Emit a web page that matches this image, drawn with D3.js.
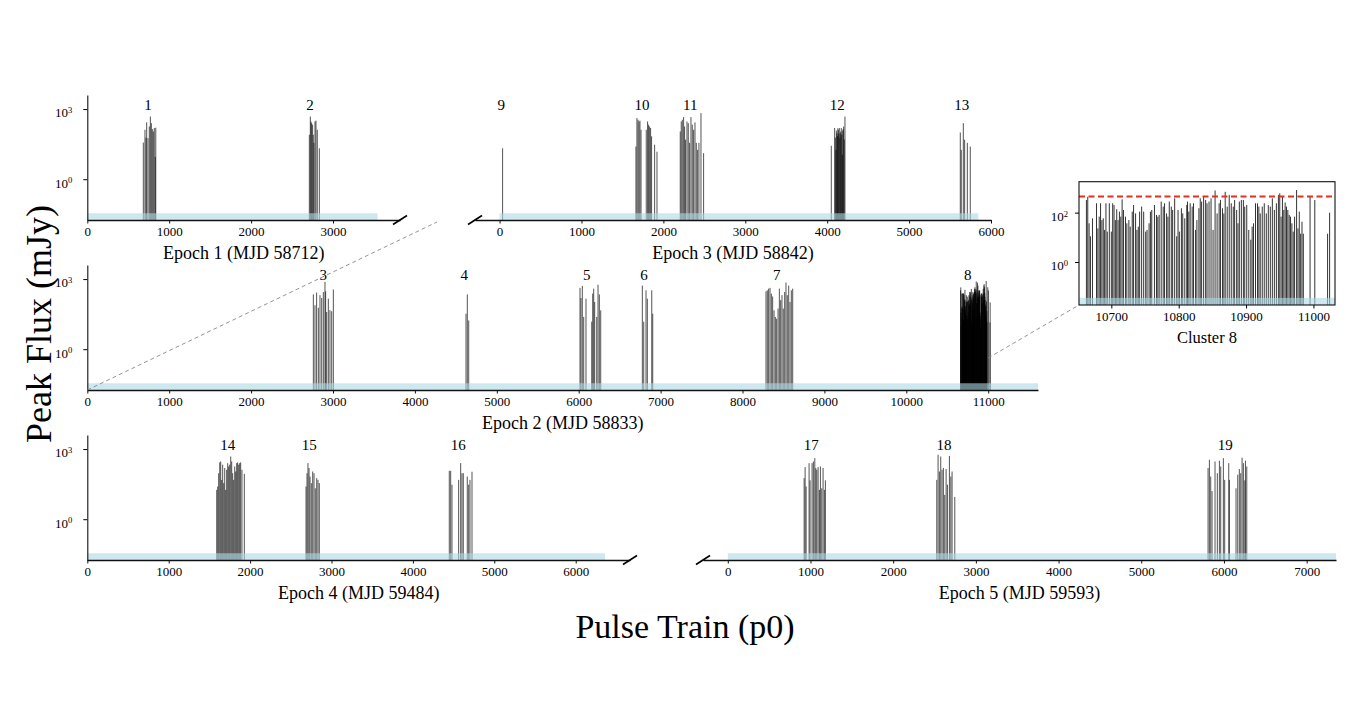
<!DOCTYPE html>
<html><head><meta charset="utf-8">
<script src="https://cdn.jsdelivr.net/npm/d3@7"></script>
<style>
body{margin:0;background:#fff}
text{font-family:"Liberation Serif","Times New Roman",serif;fill:#000}
</style>
</head><body>
<svg id="c" width="1356" height="714"></svg>
<script>
// ---------------- DATA ----------------
const epochTitles = ["Epoch 1 (MJD 58712)","Epoch 2 (MJD 58833)","Epoch 3 (MJD 58842)","Epoch 4 (MJD 59484)","Epoch 5 (MJD 59593)"];
const epochLength = [3545, 11650, 5845, 6360, 7400];   // observed span (p0) shaded band

const e1Pulse = [684,704,716,725,741,757,770,782,794,806,818,830,836, 2711,2723,2731,2739,2751,2759,2767,2780,2792,2808,2833];
const e1Flux  = [37,130,60,270,57,180,480,250,140,110,155,9,160, 80,480,295,250,215,80,36,295,320,130,21];
const e1ClusterId = [1,2];
const e1ClusterPos = [741,2718];

const e2Pulse = [2760,2780,2800,2821,2841,2862,2882,2902,2910,2923,2943,2963,2984,3004,
  4624,4640,4657,
  6016,6028,6044,6061,6089,6159,6171,6183,6195,6220,6236,6252,6269,
  6777,6794,6822,6838,6892,6904,
  8287,8303,8319,8336,8352,8368,8385,8401,8417,8434,8450,8466,8482,8498,8515,8531,8547,8564,8580,8596,8613];
const e2Flux = [220,76,265,59,205,155,280,760,300,39,145,47,42,360,
  33,220,17,
  420,155,510,24,145,15,240,390,105,24,580,220,46,
  525,15,330,145,330,33,
  300,330,390,420,240,180,46,24,20,55,390,125,205,55,280,710,205,525,105,330,390];
const c8Pulse = [10663,10665,10667,10669,10672,10678,10680,10682,10684,10686,10688,10690,10692,10694,10697,10700,10702,10704,10706,10708,
  10710,10712,10714,10716,10718,10721,10723,10726,10728,10731,10733,10736,10738,10740,10742,10745,10748,10751,10753,10756,
  10758,10760,10764,10767,10769,10771,10774,10777,10779,10782,10784,10786,10789,10791,10794,10797,10799,10801,10804,10806,
  10809,10812,10813,10815,10817,10820,10822,10825,10827,10830,10832,10834,10837,10840,10842,10845,10848,10851,10854,10857,
  10860,10862,10865,10867,10869,10872,10875,10878,10881,10883,10886,10888,10890,10893,10896,10898,10901,10904,10907,10909,
  10911,10914,10917,10919,10921,10924,10927,10930,10933,10936,10939,10942,10945,10948,10950,10952,10954,10956,10958,10960,
  10962,10964,10966,10968,10970,10972,10975,10977,10979,10981,10983,10985,10995,11002,11021,11024];
const c8Flux = [327,440,37,11,59,240,23,69,240,50,59,20,240,17,240,17,240,204,50,138,
  50,110,69,347,129,69,37,50,27,110,204,93,20,27,110,176,110,17,20,37,
  110,129,204,81,69,81,282,176,240,93,69,282,176,129,380,11,129,17,151,93,
  59,204,282,110,240,176,240,20,50,151,380,282,447,327,240,282,380,20,790,93,
  240,327,151,93,700,176,525,240,176,327,129,37,282,327,327,176,204,20,8,27,
  37,240,240,176,93,176,240,93,204,176,380,129,240,525,610,69,447,129,257,176,
  129,81,69,37,17,69,830,23,110,14,43,14,447,327,14,100];
const e2ClusterId = [3,4,5,6,7,8];
const e2ClusterPos = [2882,4603,6098,6797,8418,10750];

const e3Pulse = [37, 1665,1677,1690,1702,1714,1727,1791,1807,1819,1832,1844,1856,1893,1922,
  2206,2218,2231,2247,2259,2271,2288,2304,2320,2337,2353,2369,2386,2402,2418,2434,2459,2491,
  4050,4091,4100,4107,4112,4119,4125,4130,4136,4142,4148,4155,4160,4166,4172,4178,4185,4190,4195,4201,4208,4217,
  5625,5637,5662,5678,5711,5747];
const e3Flux = [21, 25,410,350,295,320,130,130,295,215,180,155,68,30,15,
  110,295,350,455,180,49,295,250,36,455,215,130,270,36,18,36,670,13,
  27,155,60,18,120,93,70,150,130,90,155,60,93,110,155,80,11,120,140,180,50,480,
  100,18,250,49,36,25];
const e3ClusterId = [9,10,11,12,13];
const e3ClusterPos = [20,1738,2329,4124,5643];

const e4Pulse = [1590,1602,1614,1627,1639,1651,1663,1676,1688,1700,1712,1725,1737,1749,1762,1774,1786,1798,1811,1823,1835,1847,1860,1872,1884,1900,1929,
  2687,2699,2711,2724,2736,2752,2769,2785,2801,2818,2834,2850,
  4447,4464,4480,4562,4587,4603,4619,4668,4685,4701,4726];
const e4Flux = [18,25,93,270,295,48,215,35,155,18,130,250,180,215,480,295,93,48,180,110,250,270,215,250,270,130,87,
  25,93,250,155,67,35,110,93,21,57,48,35,
  118,118,30,48,250,93,93,67,30,48,107];
const e4ClusterId = [14,15,16];
const e4ClusterPos = [1725,2727,4558];

const e5Pulse = [923,935,947,983,995,1019,1035,1052,1064,1076,1092,1108,1120,1136,1152,1168,1180,
  2527,2543,2559,2575,2591,2607,2623,2640,2656,2680,2697,2712,2745,
  5808,5824,5840,5856,5892,5920,5945,5961,5993,6009,6058,6066,6146,6167,6186,6203,6219,6235,6252,6260,6276];
const e5Flux = [57,170,25,250,46,250,295,410,155,130,170,18,180,21,155,18,46,
  48,570,110,480,130,155,11,140,30,510,67,110,9,
  155,350,67,16,295,93,320,180,410,48,250,48,21,80,140,93,430,250,46,320,180];
const e5ClusterId = [17,18,19];
const e5ClusterPos = [1008,2613,6017];

const e1Ticks = [0,1000,2000,3000];
const e2Ticks = [0,1000,2000,3000,4000,5000,6000,7000,8000,9000,10000,11000];
const e3Ticks = [0,1000,2000,3000,4000,5000,6000];
const e4Ticks = [0,1000,2000,3000,4000,5000,6000];
const e5Ticks = [0,1000,2000,3000,4000,5000,6000,7000];
const insetTicks = [10700,10800,10900,11000];
const yTicks = [1,1000];
const insetYTicks = [1,100];
const fluxFloor = 0.018, fluxCeil = 4000, insetCeil = 1800;
const bandTop = 0.035;
const threshold = 450;

// ---------------- DRAW ----------------
const svg = d3.select("#c");
const barColor = "#000";
const TICKFS = 13, YTICKFS = 13;

function supLabel(sel, fs){
  sel.each(function(d){
    const t = d3.select(this);
    t.text(null);
    t.append("tspan").text("10");
    t.append("tspan").attr("dy","-0.5em").attr("font-size",(fs*0.66)+"px").text(Math.round(Math.log10(d)));
  });
}

function styleTicks(sel, fs){
  sel.attr("font-size",null).attr("font-family",null);
  sel.selectAll(".tick text").style("font-size",fs+"px").style("font-family",'"Liberation Serif","Times New Roman",serif');
}

function panel(o){
  const x = d3.scaleLinear().domain(o.domain).range([o.px0,o.px1]);
  const y = d3.scaleLog().domain([fluxFloor,fluxCeil]).range([o.yb,o.yb-125]);
  const g = svg.append("g");
  // bars
  g.selectAll("line.bar").data(o.pulse.map((p,i)=>({p,f:o.flux[i]}))).join("line")
    .attr("x1",d=>x(d.p)).attr("x2",d=>x(d.p))
    .attr("y1",y(fluxFloor)).attr("y2",d=>y(d.f))
    .attr("stroke",barColor).attr("stroke-width",0.8).attr("stroke-opacity",0.85);
  // band
  const b0 = Math.max(0,o.domain[0]), b1 = Math.min(o.band,o.domain[1]);
  g.append("rect").attr("x",x(b0)).attr("width",x(b1)-x(b0))
    .attr("y",y(bandTop)).attr("height",y(fluxFloor)-y(bandTop))
    .attr("fill","#add8e6").attr("fill-opacity",0.6);
  // x axis
  const ax = g.append("g").attr("transform",`translate(0,${o.yb})`)
    .call(d3.axisBottom(x).tickValues(o.ticks).tickFormat(d3.format("d")).tickSize(3.5).tickSizeOuter(0).tickPadding(3.5));
  ax.select(".domain").attr("stroke","#111").attr("stroke-width",1.3);
  ax.selectAll(".tick line").attr("stroke","#111");
  styleTicks(ax, TICKFS);
  if(o.showY){
    const ay = g.append("g").attr("transform",`translate(${o.px0},0)`)
      .call(d3.axisLeft(y).tickValues(yTicks).tickSize(4).tickSizeOuter(0).tickPadding(11));
    ay.select(".domain").attr("stroke","#111").attr("stroke-width",1.1);
    styleTicks(ay, YTICKFS);
    ay.selectAll(".tick text").attr("dy","0.6em");
    supLabel(ay.selectAll(".tick text"),YTICKFS);
  }
  if(o.breakAt!==undefined){
    const bx = x(o.breakAt);
    g.append("line").attr("x1",bx-7).attr("x2",bx+7).attr("y1",o.yb+4.5).attr("y2",o.yb-4.5)
      .attr("stroke","#000").attr("stroke-width",1.6);
  }
  // cluster labels
  g.selectAll("text.cl").data(o.ids).join("text").attr("class","cl")
    .attr("x",(d,i)=>x(o.cpos[i])).attr("y",y(1000)+1)
    .attr("text-anchor","middle").attr("font-size","15px").text(d=>d);
  // title
  g.append("text").attr("x",(o.px0+o.px1)/2).attr("y",o.yb+39)
    .attr("text-anchor","middle").attr("font-size","18px").text(o.title);
  return {x,y};
}

const p1 = panel({domain:[0,3818],px0:87.3,px1:400,yb:220,pulse:e1Pulse,flux:e1Flux,band:epochLength[0],
  ticks:e1Ticks,showY:true,breakAt:3818,ids:e1ClusterId,cpos:e1ClusterPos,title:epochTitles[0]});
const p3 = panel({domain:[-300,6000],px0:475,px1:991,yb:220,pulse:e3Pulse,flux:e3Flux,band:epochLength[2],
  ticks:e3Ticks,showY:false,breakAt:-300,ids:e3ClusterId,cpos:e3ClusterPos,title:epochTitles[2]});
const p2 = panel({domain:[0,11608],px0:87.3,px1:1038,yb:390,pulse:e2Pulse.concat(c8Pulse),flux:e2Flux.concat(c8Flux),band:epochLength[1],
  ticks:e2Ticks,showY:true,ids:e2ClusterId,cpos:e2ClusterPos,title:epochTitles[1]});
const p4 = panel({domain:[0,6667],px0:87.3,px1:630,yb:560,pulse:e4Pulse,flux:e4Flux,band:epochLength[3],
  ticks:e4Ticks,showY:true,breakAt:6667,ids:e4ClusterId,cpos:e4ClusterPos,title:epochTitles[3]});
const p5 = panel({domain:[-300,7355],px0:703,px1:1336,yb:560,pulse:e5Pulse,flux:e5Flux,band:epochLength[4],
  ticks:e5Ticks,showY:false,breakAt:-300,ids:e5ClusterId,cpos:e5ClusterPos,title:epochTitles[4]});

// ---------------- INSET (Cluster 8) ----------------
const ix0=1079, ix1=1335, iyt=181.7, iyb=305;
const xi = d3.scaleLinear().domain([10652,11032]).range([ix0,ix1]);
const yi = d3.scaleLog().domain([fluxFloor,insetCeil]).range([iyb,iyt]);
const gi = svg.append("g");
gi.append("rect").attr("x",ix0).attr("y",iyt).attr("width",ix1-ix0).attr("height",iyb-iyt).attr("fill","#fff");
const defs = svg.append("defs");
defs.append("clipPath").attr("id","iclip").append("rect").attr("x",ix0).attr("y",iyt).attr("width",ix1-ix0).attr("height",iyb-iyt);
const gic = gi.append("g").attr("clip-path","url(#iclip)");
gic.selectAll("line").data(c8Pulse.map((p,i)=>({p,f:c8Flux[i]}))).join("line")
  .attr("x1",d=>xi(d.p)).attr("x2",d=>xi(d.p)).attr("y1",yi(fluxFloor)).attr("y2",d=>yi(d.f))
  .attr("stroke",barColor).attr("stroke-width",1).attr("stroke-opacity",0.8);
gic.append("rect").attr("x",ix0).attr("width",ix1-ix0).attr("y",yi(bandTop)).attr("height",yi(fluxFloor)-yi(bandTop))
  .attr("fill","#add8e6").attr("fill-opacity",0.6);
gic.append("line").attr("x1",ix0).attr("x2",ix1).attr("y1",yi(threshold)).attr("y2",yi(threshold))
  .attr("stroke","#e4311d").attr("stroke-width",2).attr("stroke-dasharray","6,3.5");
gi.append("rect").attr("x",ix0).attr("y",iyt).attr("width",ix1-ix0).attr("height",iyb-iyt)
  .attr("fill","none").attr("stroke","#111").attr("stroke-width",1.1);
const iax = gi.append("g").attr("transform",`translate(0,${iyb})`)
  .call(d3.axisBottom(xi).tickValues(insetTicks).tickFormat(d3.format("d")).tickSize(3.5).tickSizeOuter(0).tickPadding(3.5));
iax.select(".domain").remove();
styleTicks(iax, TICKFS);
const iay = gi.append("g").attr("transform",`translate(${ix0},0)`)
  .call(d3.axisLeft(yi).tickValues(insetYTicks).tickSize(4).tickSizeOuter(0).tickPadding(7));
iay.select(".domain").remove();
styleTicks(iay, YTICKFS);
iay.selectAll(".tick text").attr("dy","0.6em");
supLabel(iay.selectAll(".tick text"),YTICKFS);
gi.append("text").attr("x",(ix0+ix1)/2).attr("y",iyb+38).attr("text-anchor","middle").attr("font-size","16.5px").text("Cluster 8");

// connector lines (inset zoom indication)
svg.append("line").attr("x1",p2.x(0)).attr("y1",p2.y(fluxFloor)).attr("x2",437).attr("y2",222)
  .attr("stroke","#888").attr("stroke-width",0.9).attr("stroke-dasharray","4,3");
svg.append("line").attr("x1",p2.x(11000)).attr("y1",358).attr("x2",ix0).attr("y2",iyb)
  .attr("stroke","#888").attr("stroke-width",0.9).attr("stroke-dasharray","4,3");

// big axis labels
svg.append("text").attr("transform","translate(51,324) rotate(-90)").attr("text-anchor","middle")
  .attr("font-size","36px").text("Peak Flux (mJy)");
svg.append("text").attr("x",685).attr("y",638).attr("text-anchor","middle")
  .attr("font-size","34px").text("Pulse Train (p0)");
</script>
</body></html>
